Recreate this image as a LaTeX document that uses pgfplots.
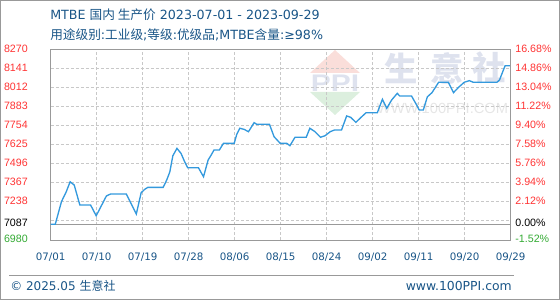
\documentclass[border=0pt]{standalone}
\usepackage{pgfplots}
\pgfplotsset{compat=1.18}
\usepackage{fontspec}
\setmainfont{Liberation Sans}
\newfontfamily\cjk{Noto Sans CJK SC}
\newfontfamily\dejavu{DejaVu Sans}
\definecolor{ttl}{RGB}{25,85,135}
\definecolor{tred}{RGB}{255,51,51}
\definecolor{tgreen}{RGB}{51,170,51}
\definecolor{lineblue}{RGB}{51,153,221}
\definecolor{framec}{RGB}{153,153,153}
\definecolor{gridc}{RGB}{200,200,200}
\definecolor{wmc}{RGB}{222,226,238}
\definecolor{wmred}{RGB}{250,222,218}
\definecolor{wmgreen}{RGB}{220,239,222}
\definecolor{wmgray}{RGB}{230,230,230}
\begin{document}
\begin{tikzpicture}
\begin{scope}[x=0.75pt,y=0.75pt]
\path[use as bounding box] (0,0) rectangle (560,300);
\draw[framec, line width=0.75pt] (0.5,0.5) rectangle (559.5,299.5);
% watermark
\fill[wmred] (310,227) -- (360,227) -- (335,250) -- cycle;
\fill[wmgreen] (310,208) -- (360,208) -- (335,185) -- cycle;
\node[text=wmc, font=\bfseries\fontsize{18}{18}\selectfont, xscale=1.25, inner sep=0] at (335,216.5) {PPI};
\node[text=wmc, font=\cjk\bfseries\fontsize{25}{25}\selectfont, inner sep=0] at (401,232) {生};
\node[text=wmc, font=\cjk\bfseries\fontsize{25}{25}\selectfont, inner sep=0] at (447,232) {意};
\node[text=wmc, font=\cjk\bfseries\fontsize{25}{25}\selectfont, inner sep=0] at (489,232) {社};
\node[text=wmgray, font=\fontsize{11}{11}\selectfont, inner sep=0] at (442.5,192) {WWW.100PPI.COM};
% titles
\node[anchor=west, inner sep=0, text=ttl, font=\dejavu\fontsize{9.5}{10}\selectfont] at (50,285.5) {MTBE {\cjk 国内 生产价} 2023-07-01 - 2023-09-29};
\node[anchor=west, inner sep=0, text=ttl, font=\dejavu\fontsize{9.5}{10}\selectfont] at (50,265.5) {{\cjk 用途级别}:{\cjk 工业级};{\cjk 等级}:{\cjk 优级品};MTBE{\cjk 含量}:≥98\%};
% footer
\draw[framec, line width=0.75pt] (9,24.3) -- (514,24.3);
\node[anchor=west, inner sep=0, text=ttl, font=\dejavu\fontsize{9}{10}\selectfont] at (10,14.3) {© 2025.05 {\cjk 生意社}};
\node[anchor=east, inner sep=0, text=ttl, font=\dejavu\fontsize{9.3}{10}\selectfont] at (512,14.3) {www.100PPI.com};
\end{scope}
\begin{axis}[
  at={(38.025pt,45pt)}, anchor=south west, scale only axis,
  width=345pt, height=143pt,
  xmin=0, xmax=90, ymin=6980, ymax=8270,
  axis line style={draw=framec, line width=0.75pt},
  xtick={0,9,...,90},
  xticklabels={07/01,07/10,07/19,07/28,08/06,08/15,08/24,09/02,09/11,09/20,09/29},
  ytick={6980,7087,7238,7367,7496,7625,7754,7883,8012,8141,8270},
  yticklabels={\textcolor{tgreen}{6980},7087,\textcolor{tred}{7238},\textcolor{tred}{7367},\textcolor{tred}{7496},\textcolor{tred}{7625},\textcolor{tred}{7754},\textcolor{tred}{7883},\textcolor{tred}{8012},\textcolor{tred}{8141},\textcolor{tred}{8270}},
  minor ytick={7109},
  major tick length=0pt, minor tick length=0pt,
  xmajorgrids, ymajorgrids, yminorgrids,
  major grid style={draw=gridc, dash pattern=on 2.25pt off 1.5pt, line width=0.75pt},
  minor grid style={draw=gridc, dash pattern=on 2.25pt off 1.5pt, line width=0.75pt},
  /pgf/number format/assume math mode=true,
  yticklabel style={font=\fontsize{8}{8}\selectfont, anchor=east, inner sep=0pt, xshift=-17pt, yshift=0.75pt},
  xticklabel style={font=\dejavu\fontsize{7.7}{8}\selectfont, text=ttl, anchor=center, inner sep=0pt, yshift=-12.75pt},
  clip=false,
]
\addplot[framec, line width=0.75pt] coordinates {(0,7087)(90,7087)};
\addplot[lineblue, line width=1pt] coordinates {
(0,7087)(0.9,7087)(2.1,7239)(3.05,7307)(3.8,7374)(4.6,7352)(5.7,7217)(7.8,7217)
(8.9,7144)(10.9,7278)(11.7,7291)(14.8,7291)(16.75,7156)(17.7,7300)(18.4,7323)(19.0,7336)
(22.0,7336)(22.7,7386)(23.3,7440)(23.9,7550)(24.7,7600)(25.5,7566)(26.2,7510)(26.8,7469)
(28.9,7469)(29.9,7408)(30.8,7521)(31.4,7555)(31.95,7589)(33.0,7589)(33.8,7634)(35.9,7634)
(36.4,7695)(37.0,7736)(37.8,7729)(38.7,7713)(39.8,7774)(40.3,7763)(42.8,7763)(43.7,7679)
(44.9,7634)(46.2,7634)(46.8,7618)(47.8,7675)(50.0,7675)(50.7,7736)(51.7,7713)(52.8,7675)
(53.7,7686)(54.7,7713)(55.5,7724)(56.9,7724)(57.9,7819)(58.7,7810)(59.7,7776)(60.85,7814)
(61.7,7841)(63.9,7841)(64.9,7932)(65.75,7871)(66.7,7927)(67.8,7972)(68.3,7954)(70.6,7954)
(71.6,7893)(72.1,7860)(72.9,7860)(73.7,7949)(74.6,7977)(75.9,8047)(77.8,8047)(78.8,7977)
(79.8,8013)(80.9,8047)(81.9,8058)(82.7,8047)(87.3,8047)(87.8,8062)(88.9,8159)(90,8159)
};
\end{axis}
\begin{axis}[
  at={(38.025pt,45pt)}, anchor=south west, scale only axis,
  width=345pt, height=143pt,
  xmin=0, xmax=90, ymin=6980, ymax=8270,
  axis x line=none, axis y line*=right,
  axis line style={draw=framec, line width=0.75pt},
  ytick={6980,7087,7238,7367,7496,7625,7754,7883,8012,8141,8270},
  yticklabels={\textcolor{tgreen}{-1.52\%},0.00\%,\textcolor{tred}{2.12\%},\textcolor{tred}{3.94\%},\textcolor{tred}{5.76\%},\textcolor{tred}{7.58\%},\textcolor{tred}{9.40\%},\textcolor{tred}{11.22\%},\textcolor{tred}{13.04\%},\textcolor{tred}{14.86\%},\textcolor{tred}{16.68\%}},
  major tick length=0pt,
  /pgf/number format/assume math mode=true,
  yticklabel style={font=\fontsize{8}{8}\selectfont, anchor=west, inner sep=0pt, xshift=3.3pt, yshift=0.75pt},
]
\end{axis}
\end{tikzpicture}
\end{document}
